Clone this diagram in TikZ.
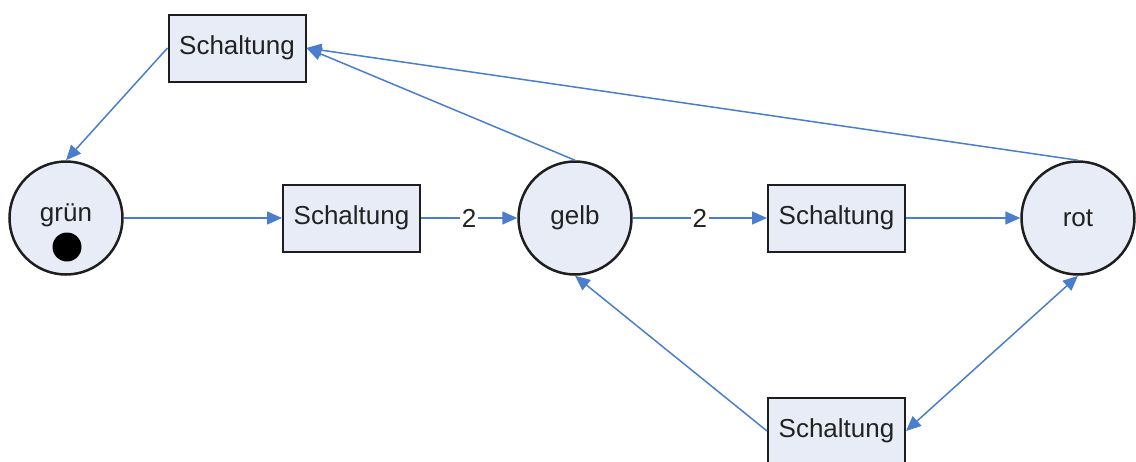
\documentclass[tikz,border=0pt]{standalone}
\usepackage{fontspec}
\setmainfont{Liberation Sans}
\usetikzlibrary{arrows.meta}
\definecolor{edgeblue}{RGB}{74,126,204}
\definecolor{nodefill}{RGB}{232,236,246}
\definecolor{nodeline}{RGB}{30,30,30}
\definecolor{textgray}{RGB}{34,34,34}
\tikzset{
  labelfont/.style={font=\fontsize{26}{30}\selectfont, text=textgray},
  place/.style={circle, draw=nodeline, fill=nodefill, line width=2.5pt,
    minimum size=113pt, inner sep=0pt, labelfont},
  transition/.style={rectangle, draw=nodeline, fill=nodefill, line width=2pt,
    minimum width=137pt, minimum height=67pt, inner sep=0pt, labelfont},
  arc/.style={draw=edgeblue, line width=1.5pt, -{Triangle[length=15pt,width=13pt]}},
  biarc/.style={draw=edgeblue, line width=1.5pt,
    {Triangle[length=15pt,width=13pt]}-{Triangle[length=15pt,width=13pt]}},
  weight/.style={fill=white, inner sep=2pt, labelfont}
}
\begin{document}
\begin{tikzpicture}[x=1pt, y=-1pt]
  \useasboundingbox (0,0) rectangle (1136,461);

  % places
  \node[place] (gruen) at (66,218) {};
  \node[labelfont] (gruenlabel) at (66,215) {grün};
  \fill (67,247) circle (14.5pt) coordinate (token);
  \node[place] (gelb) at (575,218) {gelb};
  \node[place] (rot) at (1078,218) {rot};

  % transitions
  \node[transition] (ttop) at (237,48) {Schaltung};
  \node[transition] (tleft) at (351.5,218) {Schaltung};
  \node[transition] (tright) at (836.5,218) {Schaltung};
  \node[transition] (tbottom) at (836.5,431) {Schaltung};

  % arcs
  \draw[arc] (ttop.west) -- (gruen.north);
  \draw[arc] (gruen.east) -- (tleft.west);
  \draw[arc] (tleft.east) -- node[weight] (w1) {2} (gelb.west);
  \draw[arc] (gelb.east) -- node[weight] (w2) {2} (tright.west);
  \draw[arc] (tright.east) -- (rot.west);
  \draw[arc] (gelb.north) -- (ttop.east);
  \draw[arc] (rot.north) -- (ttop.east);
  \draw[arc] (tbottom.west) -- (gelb.south);
  \draw[biarc] (rot.south) -- (tbottom.east);
\end{tikzpicture}
\end{document}
